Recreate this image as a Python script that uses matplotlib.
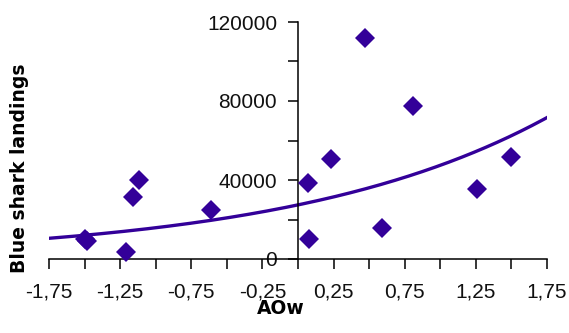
import numpy as np
import matplotlib
matplotlib.use("Agg")
import matplotlib.pyplot as plt

# Data
aow = [-1.50, -1.48, -1.21, -1.16, -1.12, -0.61, 0.07, 0.08, 0.23, 0.47, 0.59, 0.81, 1.26, 1.50]
landings = [10000, 9000, 3500, 31400, 40000, 24800, 38500, 10000, 50600, 112000, 15900, 77500, 35300, 51800]

# exponential trendline y = a * exp(b * x)
trend_a = 27400
trend_b = 0.549

x_ticks = [-1.75, -1.5, -1.25, -1.0, -0.75, -0.5, -0.25, 0.0, 0.25, 0.5, 0.75, 1.0, 1.25, 1.5, 1.75]
x_tick_labels = ["-1,75", "", "-1,25", "", "-0,75", "", "-0,25", "", "0,25", "", "0,75", "", "1,25", "", "1,75"]
y_ticks = [0, 20000, 40000, 60000, 80000, 100000, 120000]
y_tick_labels = ["0", "", "40000", "", "80000", "", "120000"]

color = "#330099"

fig = plt.figure(figsize=(5.69, 3.33), dpi=100)
ax = fig.add_axes([49/569, 1-259/333, (547-49)/569, (259-22)/333])

xs = np.linspace(-1.75, 1.75, 300)
ax.plot(xs, trend_a*np.exp(trend_b*xs), color=color, lw=2.4, zorder=2)
ax.plot(aow, landings, linestyle="none", marker="D", markersize=10.5, color=color,
        markeredgewidth=0, zorder=3, clip_on=False)

ax.set_xlim(-1.75, 1.75)
ax.set_ylim(0, 120000)
ax.spines["top"].set_visible(False)
ax.spines["right"].set_visible(False)
ax.spines["left"].set_position(("data", 0))
for s in ("left", "bottom"):
    ax.spines[s].set_linewidth(1.1)
    ax.spines[s].set_color("black")

ax.set_xticks(x_ticks)
ax.set_xticklabels(x_tick_labels)
ax.set_yticks(y_ticks)
ax.set_yticklabels(y_tick_labels)
ax.tick_params(axis="both", direction="out", length=7, width=1.1, color="black",
               labelsize=15, labelcolor="#111111")
ax.tick_params(axis="x", pad=10)
ax.tick_params(axis="y", pad=8)
for t in ax.get_xticklabels() + ax.get_yticklabels():
    t.set_fontfamily("Liberation Sans")

fig.text(20/569, 1-168/333, "Blue shark landings", rotation=90, ha="center", va="center",
         fontsize=13.5, fontweight="bold", family="DejaVu Sans")
fig.text(281/569, 1-309/333, "AOw", ha="center", va="center",
         fontsize=13.5, fontweight="bold", family="DejaVu Sans")

fig.savefig("out.png", dpi=100)
